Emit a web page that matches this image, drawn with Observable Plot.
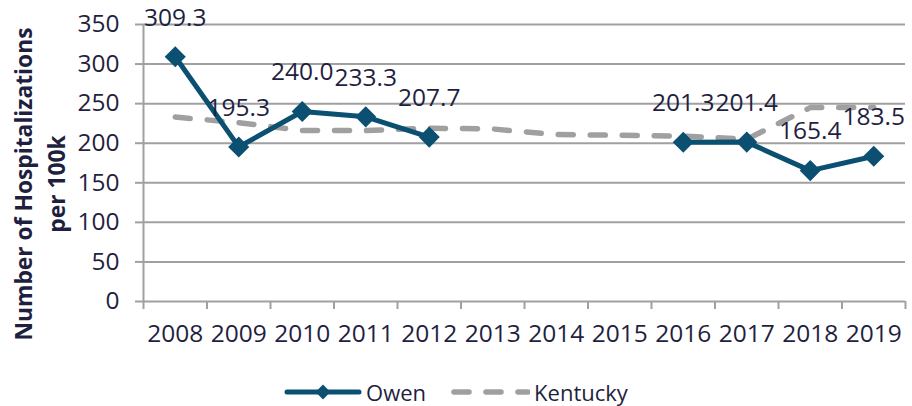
<!DOCTYPE html>
<html>
<head>
<meta charset="utf-8">
<script src="https://cdn.jsdelivr.net/npm/d3@7"></script>
<script src="https://cdn.jsdelivr.net/npm/@observablehq/plot@0.6"></script>
<style>
  html, body { margin: 0; padding: 0; background: #fff; }
  #wrap { position: relative; width: 912px; height: 406px; font-family: "Open Sans", sans-serif; color: #1f1f3f; }
  #legend { position: absolute; left: 0; top: 378px; width: 912px; height: 28px; display: flex; justify-content: center; align-items: center; font-size: 22px; }
  .item { display: flex; align-items: center; margin: 0 12px; }
  .item svg { margin-right: 4px; }
</style>
</head>
<body>
<div id="wrap">
  <div id="chart"></div>
  <div id="legend"></div>
</div>
<script>
const years = [2008, 2009, 2010, 2011, 2012, 2013, 2014, 2015, 2016, 2017, 2018, 2019];
const owen = [309.3, 195.3, 240.0, 233.3, 207.7, null, null, null, 201.3, 201.4, 165.4, 183.5];
const kentucky = [233, 226, 216, 216, 219, 218, 211, 210, 209, 205, 245, 245];
const yTicks = [0, 50, 100, 150, 200, 250, 300, 350];
const seriesNames = ["Owen", "Kentucky"];
const yTitle = ["Number of Hospitalizations", "per 100k"];

const owenColor = "#0b4f71";
const kyColor = "#a0a0a0";
const gridColor = "#a0a0a0";
const textColor = "#1f1f3f";

const data = years.map((year, i) => ({year, owen: owen[i], kentucky: kentucky[i]}));
const owenPts = data.filter(d => d.owen != null);
const boundaries = years.map(y => y - 0.5).concat([years[years.length - 1] + 0.5]);

const chart = Plot.plot({
  width: 912,
  height: 362,
  marginLeft: 143,
  marginRight: 7,
  marginTop: 24,
  marginBottom: 61,
  style: {fontFamily: "Open Sans, sans-serif", background: "#fff", overflow: "visible"},
  x: {type: "linear", domain: [boundaries[0], boundaries[boundaries.length - 1]]},
  y: {domain: [0, 350]},
  marks: [
    Plot.gridY(yTicks, {stroke: gridColor, strokeOpacity: 1, strokeWidth: 2}),
    Plot.axisY(yTicks, {tickSize: 8, tickPadding: 16, stroke: gridColor, strokeWidth: 2, fill: textColor, fontSize: 24.5, label: null}),
    Plot.ruleX([boundaries[0]], {stroke: gridColor, strokeWidth: 2}),
    Plot.axisX(boundaries, {tickSize: 8, tickFormat: () => "", stroke: gridColor, strokeWidth: 2, label: null}),
    Plot.axisX(years, {tickSize: 0, tickPadding: 23, tickFormat: d => String(d), fill: textColor, fontSize: 24.5, label: null}),
    Plot.line(data, {x: "year", y: "kentucky", stroke: kyColor, strokeWidth: 5.5, strokeDasharray: "15,17", strokeLinecap: "round"}),
    Plot.line(data, {x: "year", y: "owen", stroke: owenColor, strokeWidth: 5, strokeLinejoin: "miter"}),
    Plot.dot(owenPts, {x: "year", y: "owen", symbol: "diamond2", r: 9.5, fill: owenColor, stroke: "none"}),
    Plot.text(owenPts, {x: "year", y: "owen", text: d => d.owen.toFixed(1), dy: -39, fontSize: 24.5, fill: textColor})
  ]
});
document.getElementById("chart").appendChild(chart);

// Y-axis title (two lines, rotated)
const svg = d3.select(chart);
const t = svg.append("text")
  .attr("transform", "translate(32,184) rotate(-90)")
  .attr("text-anchor", "middle")
  .attr("font-family", "Open Sans, sans-serif")
  .attr("font-weight", "bold")
  .attr("font-size", 22.8)
  .attr("fill", textColor);
t.append("tspan").attr("x", 0).attr("y", 0).text(yTitle[0]);
t.append("tspan").attr("x", 0).attr("y", 33).text(yTitle[1]);

// Legend
const legend = d3.select("#legend");
const it1 = legend.append("div").attr("class", "item");
const s1 = it1.append("svg").attr("width", 78).attr("height", 24);
s1.append("line").attr("x1", 3).attr("x2", 75).attr("y1", 12).attr("y2", 12)
  .attr("stroke", owenColor).attr("stroke-width", 5).attr("stroke-linecap", "round");
s1.append("path").attr("d", d3.symbol(d3.symbolDiamond2, 140)()).attr("transform", "translate(39,12)").attr("fill", owenColor);
it1.append("span").text(seriesNames[0]);
const it2 = legend.append("div").attr("class", "item");
const s2 = it2.append("svg").attr("width", 80).attr("height", 24);
s2.append("line").attr("x1", 4).attr("x2", 78).attr("y1", 12).attr("y2", 12)
  .attr("stroke", kyColor).attr("stroke-width", 5.5).attr("stroke-linecap", "round").attr("stroke-dasharray", "15,17");
it2.append("span").text(seriesNames[1]);
</script>
</body>
</html>
